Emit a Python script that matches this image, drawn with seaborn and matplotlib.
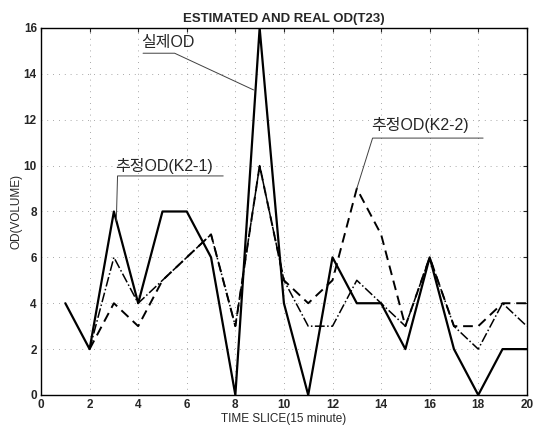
import pandas as pd
import seaborn as sns
import matplotlib.pyplot as plt

# values
time_slice = list(range(1, 21))
real_od = [4, 2, 8, 4, 8, 8, 6, 0, 16, 4, 0, 6, 4, 4, 2, 6, 2, 0, 2, 2]

est_slice = list(range(2, 21))
est_k21 = [2, 6, 4, 5, 6, 7, 3, 10, 5, 3, 3, 5, 4, 3, 6, 3, 2, 4, 3]
est_k22 = [2, 4, 3, 5, 6, 7, 3, 10, 5, 4, 5, 9, 7, 3, 6, 3, 3, 4, 4]

x_ticks = list(range(0, 21, 2))
y_ticks = list(range(0, 17, 2))

df_real = pd.DataFrame({'slice': time_slice, 'od': real_od})
df_est = pd.DataFrame({'slice': est_slice, 'k21': est_k21, 'k22': est_k22})

sns.set_style('white')
plt.rcParams['font.family'] = ['Liberation Sans', 'Noto Sans CJK KR']

fig = plt.figure(figsize=(5.42, 4.26), dpi=100)
ax = fig.add_axes([0.0757, 0.0728, 0.8963, 0.8615])

# real OD (solid), K2-1 estimate (dash-dot), K2-2 estimate (dashed)
sns.lineplot(x='slice', y='od', data=df_real, ax=ax, color='black', linewidth=1.6)
sns.lineplot(x='slice', y='k21', data=df_est, ax=ax, color='black', linewidth=1.1, linestyle='-.')
sns.lineplot(x='slice', y='k22', data=df_est, ax=ax, color='black', linewidth=1.4, linestyle=(0, (5, 3)))

ax.set_xlim(0, 20)
ax.set_ylim(0, 16)
ax.set_xticks(x_ticks)
ax.set_yticks(y_ticks)
ax.tick_params(direction='in', top=True, right=True, length=3, labelsize=8.5, pad=3)
for lab in ax.get_xticklabels() + ax.get_yticklabels():
    lab.set_fontweight('bold')
ax.grid(True, linestyle=(0, (1, 6)), color='0.55', linewidth=0.6)
for sp in ax.spines.values():
    sp.set_color('black')
    sp.set_linewidth(1.0)

ax.set_title('ESTIMATED AND REAL OD(T23)', fontsize=9.5, fontweight='bold', pad=4)
ax.set_xlabel('TIME SLICE(15 minute)', fontsize=8.5, labelpad=1)
ax.set_ylabel('OD(VOLUME)', fontsize=8.5, labelpad=1)

# labels with underline + leader line
leader = dict(color='0.25', linewidth=0.7)
ax.text(4.1, 15.35, '실제OD', fontsize=11.5, va='center', ha='left')
ax.plot([4.2, 5.5, 8.75], [14.9, 14.9, 13.3], **leader)

ax.text(3.05, 9.98, '추정OD(K2-1)', fontsize=11.5, va='center', ha='left')
ax.plot([7.5, 3.15, 3.1], [9.55, 9.55, 7.6], **leader)

ax.text(13.6, 11.75, '추정OD(K2-2)', fontsize=11.5, va='center', ha='left')
ax.plot([18.2, 13.65, 13.0], [11.2, 11.2, 9.0], **leader)

plt.savefig('out.png', dpi=100)
